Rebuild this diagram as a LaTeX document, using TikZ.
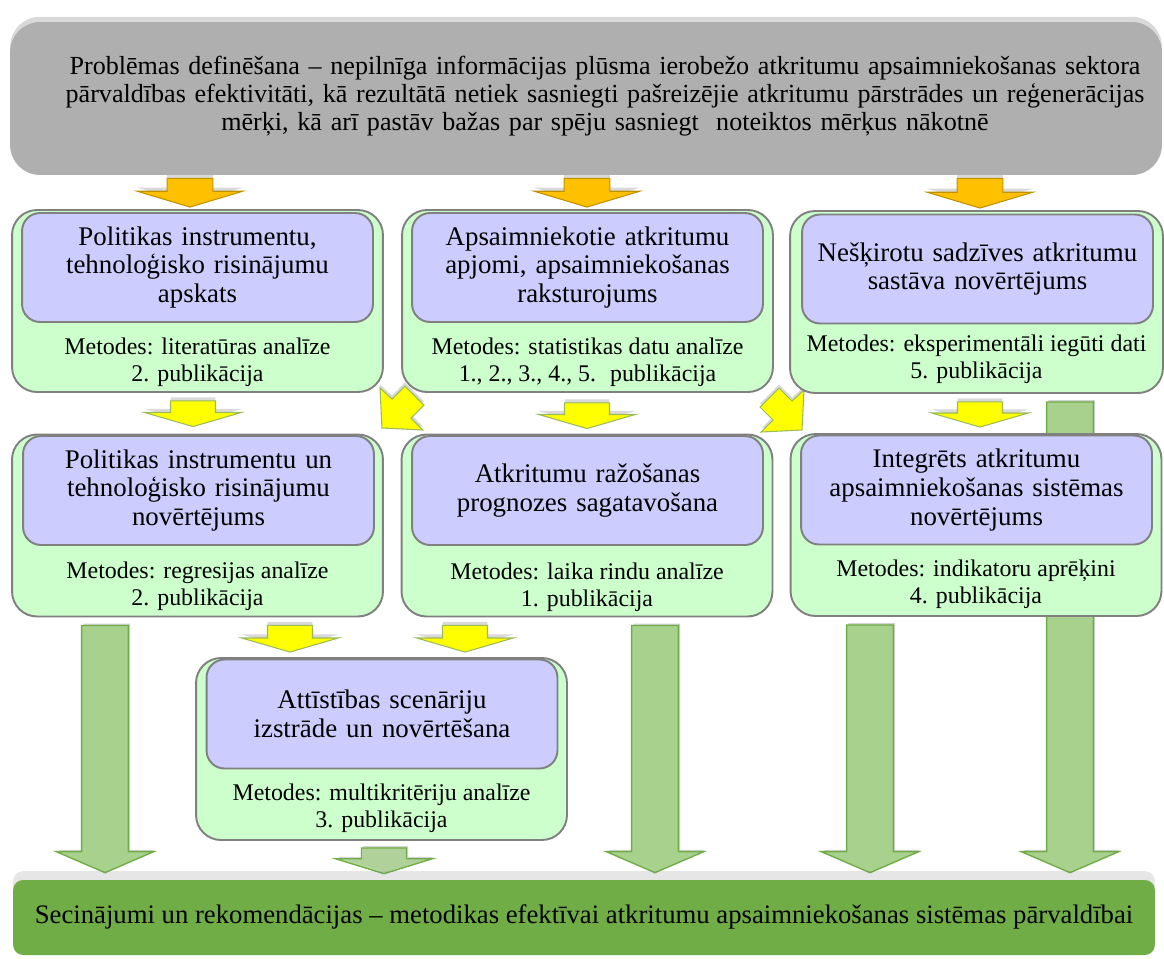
\documentclass[tikz,border=0pt]{standalone}
\usepackage{fontspec}
\setmainfont{Liberation Serif}
\usetikzlibrary{calc, shadows}

\definecolor{topgray}{RGB}{175,175,175}
\definecolor{boxgreen}{RGB}{204,255,204}
\definecolor{boxpurple}{RGB}{204,204,255}
\definecolor{edgegray}{RGB}{128,128,128}
\definecolor{arrorange}{RGB}{255,192,0}
\definecolor{arrorangedk}{RGB}{191,144,0}
\definecolor{arryellow}{RGB}{255,255,0}
\definecolor{arryellowdk}{RGB}{155,187,89}
\definecolor{arrgreen}{RGB}{169,209,142}
\definecolor{arrgreendk}{RGB}{112,173,71}
\definecolor{bargreen}{RGB}{112,173,71}

\pgfdeclarelayer{background}
\pgfsetlayers{background,main}

% vertical block arrow: start, tip, half shaft, half head, head length
\newcommand{\blockarrow}[6][]{%
  \path[#1] let \p1=(#2), \p2=(#3) in
    (\x1-#4,\y1) -- (\x1+#4,\y1) -- (\x1+#4,\y2+#6) -- (\x1+#5,\y2+#6)
    -- (\x1,\y2) -- (\x1-#5,\y2+#6) -- (\x1-#4,\y2+#6) -- cycle;}

\tikzset{
  topbox/.style={fill=topgray, rounded corners=0.6cm, minimum width=23.04cm,
    minimum height=3.06cm,
    drop shadow={shadow xshift=0pt, shadow yshift=3pt, opacity=.3}},
  toptext/.style={text width=22.6cm, align=center, font=\fontsize{14.85}{15.9}\selectfont},
  outerbox/.style={draw=edgegray, line width=1.1pt, fill=boxgreen, rounded corners=0.5cm,
    minimum width=7.42cm, minimum height=3.64cm},
  innerbox/.style={draw=edgegray, line width=1.1pt, fill=boxpurple, rounded corners=0.36cm,
    text width=6.7cm, inner xsep=0.16cm, align=center, minimum height=2.18cm,
    font=\fontsize{15.3}{16.4}\selectfont},
  methods/.style={align=center, inner sep=0pt},
  barbox/.style={fill=bargreen, rounded corners=0.2cm, minimum width=22.84cm, minimum height=1.5cm,
    text height=2.2ex, font=\fontsize{15.2}{17}\selectfont,
    drop shadow={shadow xshift=0pt, shadow yshift=5pt, opacity=.2}},
  orangearr/.style={fill=arrorange, draw=arrorangedk, line width=0.6pt,
    drop shadow={shadow xshift=0pt, shadow yshift=2pt, opacity=.3}},
  yellowarr/.style={fill=arryellow, draw=arryellowdk, line width=0.6pt,
    drop shadow={shadow xshift=0pt, shadow yshift=2pt, opacity=.3}},
  greenarr/.style={fill=arrgreen, draw=arrgreendk, line width=0.8pt,
    drop shadow={shadow xshift=1pt, shadow yshift=1pt, opacity=.35}},
}

\begin{document}
\begin{tikzpicture}[x=0.02cm, y=-0.02cm, font=\fontsize{13.6}{15.2}\selectfont]
\useasboundingbox (0,0) rectangle (1164,958);

\node[topbox] (top) at (586,98.5) {};
\node[toptext] (topText) at (605,96) {Problēmas definēšana -- nepilnīga informācijas plūsma ierobežo atkritumu apsaimniekošanas sektora\\
pārvaldības efektivitāti, kā rezultātā netiek sasniegti pašreizējie atkritumu pārstrādes un reģenerācijas\\
mērķi, kā arī pastāv bažas par spēju sasniegt~ noteiktos mērķus nākotnē};

% first row
\node[outerbox] (A) at (197.5,301) {};
\node[innerbox] (inA) at (197.5,267.5) {Politikas instrumentu,\\ tehnoloģisko risinājumu\\ apskats};
\node[methods] (mA) at (197.5,362) {Metodes: literatūras analīze\\ 2. publikācija};

\node[outerbox] (B) at (587.5,301) {};
\node[innerbox] (inB) at (587.5,267.5) {Apsaimniekotie atkritumu\\ apjomi, apsaimniekošanas\\ raksturojums};
\node[methods] (mB) at (587.5,362) {Metodes: statistikas datu analīze\\ 1., 2., 3., 4., 5.~ publikācija};

\node[outerbox, minimum width=7.46cm] (C) at (976.5,302) {};
\node[innerbox] (inC) at (977.5,269) {Nešķirotu sadzīves atkritumu\\ sastāva novērtējums};
\node[methods] (mC) at (976.5,359) {Metodes: eksperimentāli iegūti dati\\ 5. publikācija};

% second row
\node[outerbox] (D) at (197.5,525.5) {};
\node[innerbox] (inD) at (198.5,490.5) {Politikas instrumentu un\\ tehnoloģisko risinājumu\\ novērtējums};
\node[methods] (mD) at (197.5,586) {Metodes: regresijas analīze\\ 2. publikācija};

\node[outerbox] (E) at (587,525.5) {};
\node[innerbox] (inE) at (587.5,490.5) {Atkritumu ražošanas\\ prognozes sagatavošana};
\node[methods] (mE) at (587,587) {Metodes: laika rindu analīze\\ 1. publikācija};

\node[outerbox] (F) at (976,525) {};
\node[innerbox] (inF) at (976.5,490) {Integrēts atkritumu\\ apsaimniekošanas sistēmas\\ novērtējums};
\node[methods] (mF) at (976,584) {Metodes: indikatoru aprēķini\\ 4. publikācija};

% third row
\node[outerbox] (G) at (381.5,749) {};
\node[innerbox] (inG) at (382,714) {Attīstības scenāriju\\ izstrāde un novērtēšana};
\node[methods] (mG) at (381.5,808) {Metodes: multikritēriju analīze\\ 3. publikācija};

\node[barbox] (bar) at (584,917.5) {Secinājumi un rekomendācijas -- metodikas efektīvai atkritumu apsaimniekošanas sistēmas pārvaldībai};

\begin{pgfonlayer}{background}
% from problem box
\blockarrow[orangearr]{$(190,0 |- top.south)+(0,3)$}{$(190,0 |- A.north)+(0,-2)$}{13pt}{30pt}{9pt}
\blockarrow[orangearr]{$(587,0 |- top.south)+(0,3)$}{$(587,0 |- B.north)+(0,-2)$}{13pt}{30pt}{9pt}
\blockarrow[orangearr]{$(980,0 |- top.south)+(0,3)$}{$(980,0 |- C.north)+(0,-2)$}{13pt}{30pt}{9pt}
% first row to second row
\blockarrow[yellowarr]{$(193,0 |- A.south)+(0,8)$}{$(193,0 |- D.north)+(0,-7)$}{12.8pt}{27.5pt}{8pt}
\blockarrow[yellowarr]{$(587,0 |- B.south)+(0,10)$}{$(587,0 |- E.north)+(0,-5)$}{12.8pt}{27.5pt}{8pt}
\blockarrow[yellowarr]{$(980,0 |- C.south)+(0,8)$}{$(980,0 |- F.north)+(0,-6)$}{12.8pt}{27.5pt}{8pt}
\path[yellowarr] (380,388) -- (382,428) -- (423,430) -- (411,418) -- (424,405) -- (405,386) -- (392,399) -- cycle;
\path[yellowarr] (804,390) -- (802,430) -- (761,432) -- (773,420) -- (760,407) -- (779,388) -- (792,401) -- cycle;
% second row to scenarios
\blockarrow[yellowarr]{$(290,0 |- D.south)+(0,8)$}{$(290,0 |- G.north)+(0,-5)$}{12.8pt}{27.5pt}{8pt}
\blockarrow[yellowarr]{$(465,0 |- E.south)+(0,8)$}{$(465,0 |- G.north)+(0,-5)$}{12.8pt}{27.5pt}{8pt}
% to conclusions
\blockarrow[greenarr]{$(105,0 |- D.south)+(0,8)$}{$(105,0 |- bar.north)+(0,-7)$}{13.3pt}{27.8pt}{12pt}
\blockarrow[greenarr]{$(655,0 |- E.south)+(0,8)$}{$(655,0 |- bar.north)+(0,-7)$}{13.3pt}{27.8pt}{12pt}
\blockarrow[greenarr]{$(870,0 |- F.south)+(0,8)$}{$(870,0 |- bar.north)+(0,-7)$}{13.3pt}{27.8pt}{12pt}
\blockarrow[greenarr]{$(1070,0 |- C.south)+(0,8)$}{$(1070,0 |- bar.north)+(0,-7)$}{13.3pt}{27.8pt}{12pt}
\blockarrow[greenarr, fill opacity=.8]{$(384,0 |- G.south)+(0,7)$}{$(384,0 |- bar.north)+(0,-6)$}{12.8pt}{27.5pt}{8.5pt}
\end{pgfonlayer}
\end{tikzpicture}
\end{document}
